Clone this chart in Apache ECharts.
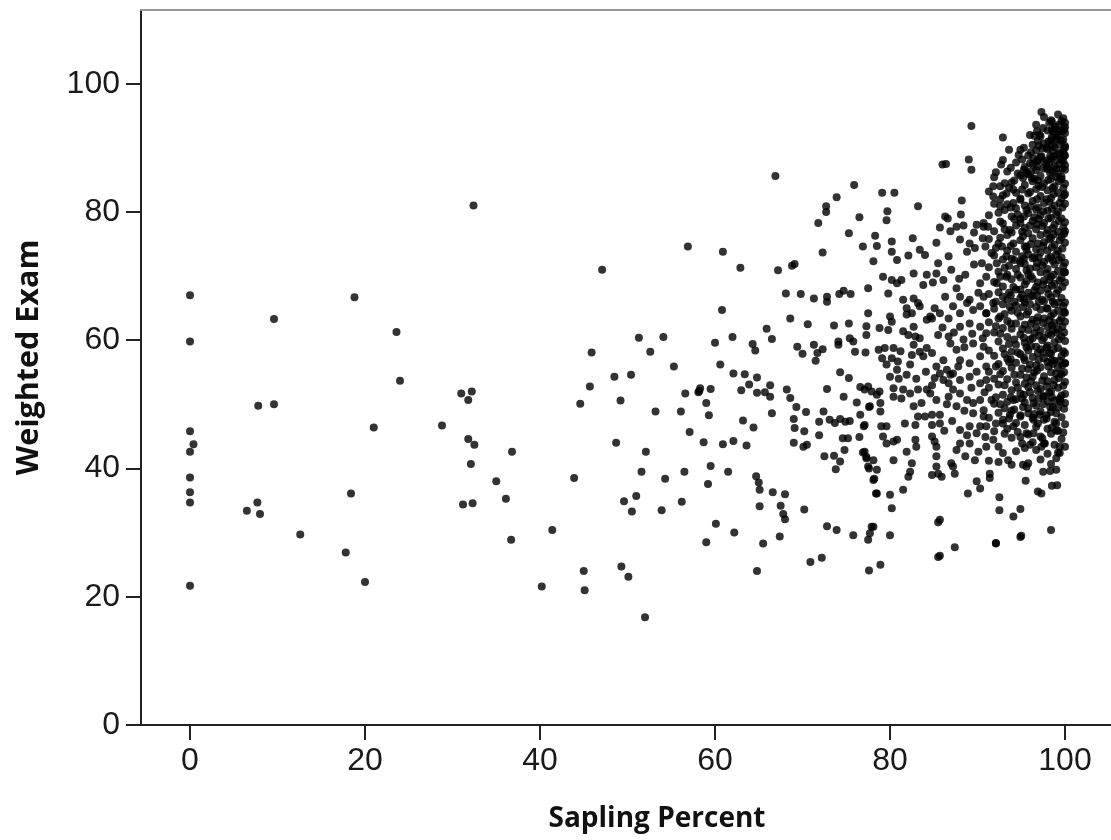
<!DOCTYPE html>
<html><head><meta charset="utf-8">
<script src="https://cdn.jsdelivr.net/npm/echarts@6/dist/echarts.min.js"></script>
<style>html,body{margin:0;padding:0;background:#fff}#c{width:1111px;height:840px}</style>
</head><body><div id="c"></div>
<script>
const xTicks = [0, 20, 40, 60, 80, 100];
const yTicks = [0, 20, 40, 60, 80, 100];
const xName = 'Sapling Percent';
const yName = 'Weighted Exam';

// [sapling percent, weighted exam]
const lowSapling = [
 [0,67.0],[0,59.8],[0,45.8],[0.4,43.8],[0,42.6],[0,38.6],[0,36.3],[0,34.7],[0,21.7],
 [9.6,63.3],[7.8,49.8],[9.6,50.0],[7.7,34.7],[6.5,33.4],[8.0,32.9],[12.6,29.7],
 [18.8,66.7],[17.8,26.9],[20.0,22.3],[18.4,36.1],[23.6,61.3],[24.0,53.7],[21.0,46.4]
];
const midSapling = [
 [32.4,81.0],[47.1,71.0],[56.9,74.6],[31.0,51.7],[32.2,52.0],[31.8,50.7],[28.8,46.7],[31.8,44.6],
 [32.5,43.7],[32.1,40.7],[36.8,42.6],[35.0,38.0],[36.1,35.3],[31.2,34.4],[32.3,34.6],[36.7,28.9],
 [41.4,30.4],[43.9,38.5],[40.2,21.6],[45.0,24.0],[45.1,21.0],[49.3,24.7],[50.1,23.1],[52.0,16.8],
 [45.9,58.1],[45.7,52.8],[44.6,50.1],[48.5,54.3],[50.4,54.6],[49.2,50.6],[51.3,60.4],[54.1,60.5],
 [52.6,58.2],[55.3,55.9],[56.6,51.7],[58.2,52.1],[53.2,48.9],[56.1,48.9],[57.1,45.7],[48.7,44.0],
 [52.1,42.6],[51.6,39.5],[54.3,38.4],[56.5,39.5],[51.0,35.7],[49.6,34.9],[50.5,33.3],[53.9,33.5],[56.2,34.8]
];
const upperMidSapling = [
 [66.9,85.6],[75.9,84.2],[73.9,82.3],[72.7,80.9],[72.7,80.0],[71.8,78.3],[76.5,79.2],[75.3,76.7],
 [76.9,74.6],[72.3,73.7],[60.9,73.8],[62.9,71.3],[67.2,70.9],[68.8,71.6],[69.1,71.9],[68.1,67.3],
 [69.8,67.2],[71.3,66.5],[72.8,66.8],[72.8,66.0],[74.2,67.2],[74.7,67.7],[75.5,67.2],[60.8,64.7],
 [68.6,63.4],[70.6,62.5],[73.6,62.3],[75.3,62.6],[65.9,61.8],[66.5,60.2],[62.0,60.5],[60.0,59.6],
 [64.3,59.4],[64.6,58.4],[69.4,59.0],[70.0,57.9],[71.3,59.3],[72.3,58.6],[71.7,58.0],[71.5,56.8],
 [74.1,59.8],[74.1,59.3],[75.4,60.3],[75.8,59.8],[76.0,58.2],[77.2,58.1],[60.6,56.2],[62.1,54.8],
 [63.4,54.7],[64.8,54.2],[63.9,53.1],[63.0,52.2],[64.8,51.8],[65.7,51.9],[66.3,51.2],[66.3,53.0],
 [58.3,52.5],[58.1,51.9],[59.5,52.4],[59.0,50.2],[59.3,48.3],[58.7,44.1],[60.9,43.8],[62.1,44.3],
 [63.6,43.6],[63.2,47.5],[64.4,46.4],[66.5,48.6],[68.2,52.3],[68.6,51.0],[69.3,49.6],[70.4,48.8],
 [69.0,47.7],[69.1,46.3],[70.2,45.8],[69.0,44.0],[70.1,43.4],[70.5,43.7],[72.8,52.4],[74.3,55.0],
 [75.3,54.1],[74.7,51.2],[76.2,50.3],[76.6,48.4],[77.0,46.6],[72.4,48.9],[71.9,47.3],[71.9,45.2],
 [73.1,47.6],[73.7,47.1],[74.3,47.7],[74.9,47.3],[75.4,47.4],[74.6,44.7],[75.2,44.7],[76.5,44.9],
 [74.8,42.9],[72.5,41.9],[73.6,42.0],[74.3,41.1],[73.8,39.9],[76.9,42.5],[77.3,41.6],[77.6,40.0],
 [78.2,38.4],[78.4,36.1],[59.5,40.4],[61.5,39.5],[59.2,37.6],[64.7,38.8],[65.0,37.8],[65.1,36.7],
 [65.1,34.1],[66.6,36.3],[68.0,36.0],[67.5,34.2],[67.8,32.9],[68.0,32.1],[70.2,33.6],[60.1,31.4],
 [62.2,30.0],[59.0,28.5],[65.5,28.3],[67.4,29.4],[64.8,24.0],[72.8,31.0],[73.9,30.4],[75.8,29.6],
 [77.9,30.9],[77.7,29.9],[77.5,28.9],[70.9,25.4],[72.2,26.1],[77.6,24.1],[78.9,25.0],[77.5,68.1],
 [77.5,64.2],[77.3,62.2],[77.3,60.8],[78.3,76.3],[78.5,74.7],[78.1,72.3],[77.5,52.8],[77.9,52.0],
 [78.5,51.5],[77.6,49.6],[76.6,52.7],[77.1,52.3],[78.7,58.5]
];
const highSapling = [
 [89.3,93.4],[89.0,88.2],[89.3,86.6],[86.0,87.4],[86.4,87.5],[79.1,83.0],[80.5,83.0],[88.2,81.8],
 [83.2,80.9],[79.7,80.1],[79.6,78.7],[86.3,79.3],[86.6,79.0],[85.7,77.6],[86.9,77.0],[87.6,77.7],
 [88.4,77.9],[89.9,78.0],[90.7,77.7],[80.2,75.4],[80.2,73.8],[82.6,75.9],[85.3,75.2],[83.4,74.1],
 [84.0,73.3],[82.1,73.2],[80.8,72.5],[86.7,73.1],[85.5,72.0],[88.0,75.7],[89.1,75.1],[89.7,74.4],
 [88.8,73.8],[82.7,70.4],[79.2,69.9],[80.2,69.4],[80.8,68.9],[81.3,69.4],[79.8,67.3],[84.2,70.2],
 [85.3,70.4],[86.1,69.4],[87.0,71.0],[83.8,68.6],[84.9,69.0],[86.3,66.8],[87.6,68.1],[88.0,66.8],
 [89.1,66.3],[90.3,68.9],[80.0,63.7],[81.5,66.3],[82.7,66.5],[83.4,65.3],[81.9,64.0],[84.6,63.7],
 [85.1,65.0],[80.2,62.9],[78.8,61.9],[79.8,61.6],[81.5,61.4],[82.1,60.8],[82.7,62.1],[82.9,60.6],
 [83.4,60.3],[81.9,65.0],[82.5,64.2],[83.2,65.8],[84.2,63.2],[84.8,63.4],[85.7,64.2],[86.7,63.4],
 [85.5,60.8],[86.7,60.6],[79.4,58.8],[80.4,58.8],[79.1,57.2],[80.2,57.2],[80.9,56.7],[82.7,59.3],
 [82.5,57.7],[83.4,58.2],[84.2,58.8],[84.8,58.0],[83.8,57.5],[79.6,56.2],[80.8,55.4],[80.0,54.3],
 [81.0,54.0],[82.3,56.2],[81.9,54.6],[85.3,55.9],[85.7,54.8],[86.1,53.8],[86.7,53.3],[85.1,54.1],
 [86.9,54.6],[78.8,52.0],[80.4,52.5],[81.5,52.3],[82.3,51.7],[83.2,52.3],[84.2,52.3],[84.8,53.0],
 [84.6,51.7],[80.4,51.2],[81.3,50.9],[82.7,49.7],[83.6,50.2],[85.3,50.7],[86.7,51.2],[77.7,49.7],
 [78.9,50.2],[78.9,48.9],[77.1,46.8],[79.0,46.6],[79.6,46.6],[81.7,47.0],[82.9,46.8],[83.2,48.1],
 [84.0,48.1],[84.8,48.4],[85.7,48.4],[84.8,46.8],[85.7,47.0],[79.2,45.0],[79.6,43.9],[80.4,44.2],
 [80.8,44.5],[82.9,44.5],[83.0,43.4],[84.8,45.0],[85.1,44.2],[85.3,43.4],[77.1,42.6],[77.3,41.8],
 [78.1,41.3],[80.4,41.3],[81.9,42.6],[82.5,40.8],[82.3,39.5],[82.1,38.7],[77.5,40.3],[78.5,39.8],
 [78.1,38.2],[85.3,41.9],[85.3,40.3],[85.5,39.2],[84.8,39.0],[85.9,38.7],[87.2,40.3],[87.4,39.2],
 [87.0,40.8],[78.5,36.1],[80.0,35.9],[80.2,33.8],[81.5,36.7],[85.7,32.0],[85.5,31.6],[78.1,30.9],
 [80.0,29.6],[87.4,27.7],[85.7,26.4],[88.9,36.1],[89.9,38.0],[90.3,36.9],[88.0,46.0],[88.8,45.2],
 [88.0,43.9],[87.6,42.9],[88.6,41.9],[89.1,43.9],[89.9,45.5],[89.7,41.3],[90.1,42.6],[87.2,52.3],
 [88.0,51.7],[88.8,50.7],[87.6,49.7],[89.5,50.2],[90.3,50.7],[89.5,48.6],[90.7,48.1],[89.1,46.6],
 [90.3,46.6],[87.2,65.3],[88.0,64.2],[88.8,65.8],[89.5,64.7],[90.3,65.3],[91.0,64.2],[88.0,62.1],
 [89.1,62.6],[90.3,62.1],[91.0,61.1],[86.9,59.5],[87.6,58.5],[88.4,60.1],[89.5,59.5],[90.7,59.0],
 [88.0,56.9],[89.1,56.4],[90.3,57.5],[91.0,55.9],[87.2,54.8],[88.0,53.8],[89.1,54.3],[90.3,53.3],
 [91.0,53.8],[86.1,56.9],[86.5,55.4],
 [88.6,70.2],[89.6,71.8],[90.1,67.4],[87.9,69.6],[89.4,61.0],[90.6,60.3],[88.5,58.9],[89.9,55.1],
 [90.8,51.9],[88.5,49.0],[87.1,47.4],[86.2,45.9],[86.5,50.0],[87.8,55.9],[90.9,44.9],[89.3,52.6],
 [84.1,55.1],[83.0,54.0],[81.2,58.3],[86.0,62.0],[87.3,61.2],[90.6,75.9],[89.6,76.8],[88.1,79.6]
];
const topSapling = [
 [97.3,95.6],[99.2,95.2],[99.8,94.6],[98.5,94.1],[98.9,93.3],[100.0,93.9],[99.4,92.6],[98.5,92.8],
 [96.0,92.0],[97.1,92.0],[92.9,91.6],[100.0,92.3],[99.8,91.3],[99.0,91.3],[98.5,90.5],[97.9,90.0],
 [100.0,90.0],[99.4,89.2],[93.6,89.7],[94.9,89.7],[94.7,88.9],[96.4,88.4],[96.9,88.1],[96.0,87.6],
 [97.3,88.7],[98.3,88.7],[99.0,88.1],[99.8,87.9],[92.7,87.4],[96.8,87.1],[97.9,87.1],[99.0,86.8],
 [100.0,86.6],[98.3,86.1],[99.6,85.5],[91.9,85.4],[95.2,85.3],[96.2,85.3],[91.8,84.0],[92.6,84.0],
 [91.8,82.4],[93.3,82.9],[94.1,83.5],[92.6,80.9],[93.1,80.3],[94.1,81.4],[94.9,81.9],[90.7,78.3],
 [91.2,77.7],[92.6,78.5],[90.9,74.6],[91.6,73.6],[90.5,72.0],[92.2,72.0],[93.3,73.1],[92.8,74.6],
 [93.7,77.2],[94.9,78.3],[95.2,76.2],[94.1,75.1],[95.6,74.6],[91.0,69.9],[92.2,68.9],[93.3,69.9],
 [94.1,68.3],[90.7,66.8],[91.8,65.8],[92.9,66.8],[93.7,65.2],[91.0,64.2],[92.6,63.7],[94.9,72.0],
 [95.6,70.9],[94.9,67.9],[96.0,66.8],[95.2,65.2]
];
const lowerHighSapling = [
 [100.0,56.4],[99.4,50.7],[99.0,48.6],[99.0,45.9],[99.4,43.4],[99.4,42.4],[97.5,39.5],[98.3,39.6],
 [99.0,39.8],[98.5,37.3],[99.1,37.4],[96.9,36.4],[97.3,36.1],[95.5,38.1],[92.5,35.5],[92.5,33.5],
 [94.1,32.5],[94.9,33.7],[98.4,30.4],[94.9,29.3],[92.1,28.3],[91.4,39.2],[91.4,38.5],[93.5,41.3],
 [93.9,40.6],[95.2,40.6],[95.6,40.3],[95.1,43.9],[96.0,43.7],[96.4,45.5],[97.7,43.9],[97.3,43.4],
 [92.4,43.4],[91.0,43.4],[91.8,44.5],[93.7,48.4],[94.9,48.1],[95.8,48.6],[96.4,47.6],[97.9,47.8],
 [97.1,48.4],[98.3,49.6],[92.9,47.0],[91.0,46.6],[90.7,49.1],[91.6,50.7],[94.1,50.7],[95.2,49.6],
 [97.5,51.2],[96.4,50.2],[94.1,46.6],[95.6,45.5],[99.5,50.4],[85.5,26.2],[95.0,29.5],[92.1,28.4]
];
// dense core: sapling value followed by the exam scores read at that value
const denseCols = [
 [91.3, [83.2,79.5,75.8,71.4,67.2,62.8,58.4,55.1,52.6,47.9,41.2]],
 [91.9, [81.3,77.0,73.2,69.1,64.9,61.2,57.6,54.0,50.1,45.8]],
 [92.4, [79.9,75.1,70.7,67.5,63.4,59.8,56.3,53.1,48.7,41.0]],
 [92.9, [88.1,82.6,78.2,72.6,68.4,65.6,61.9,58.7,55.2,51.5,47.6,42.4]],
 [93.4, [86.3,81.2,76.4,74.0,70.2,66.3,63.0,60.5,57.1,53.9,50.4,46.2]],
 [93.9, [84.6,79.3,76.8,72.7,69.5,64.6,61.8,58.2,55.7,52.2,49.0,44.8]],
 [94.4, [87.7,83.0,80.6,77.9,73.8,71.1,67.9,65.4,62.6,59.3,56.5,53.4,50.8,47.1,42.7]],
 [94.9, [85.7,82.1,78.9,75.6,72.3,69.8,66.6,63.7,60.9,57.8,54.6,51.7,48.3,44.9]],
 [95.4, [87.0,84.2,81.0,77.5,74.6,71.9,68.7,65.9,62.4,59.6,56.9,53.2,50.3,46.8,43.2]],
 [95.6, [86.1,80.3,74.1,69.2,64.0,58.9,54.2]],
 [95.8, [88.8,85.9,82.9,79.8,76.7,73.4,70.3,67.4,64.5,61.6,58.4,55.5,52.7,49.4,45.3,40.8]],
 [96.3, [90.5,87.4,84.8,81.7,78.6,75.9,72.8,69.6,66.9,63.2,60.3,57.4,54.3,51.0,47.9,44.1]],
 [96.5, [91.9,85.2,79.2,73.0,67.8,61.1,55.0,48.5]],
 [96.7, [93.6,89.6,86.5,83.6,80.4,77.3,74.2,71.4,68.3,65.2,62.0,59.0,56.1,53.0,49.8,46.5,42.9]],
 [97.2, [91.8,88.6,85.6,82.5,79.5,76.4,73.7,70.6,67.7,64.8,61.5,58.6,55.8,52.4,48.9,45.0,41.4]],
 [97.4, [89.9,83.9,77.8,71.7,66.3,60.0,53.7,44.7]],
 [97.6, [94.8,90.7,87.8,84.5,81.4,78.3,75.3,72.2,69.3,66.1,63.4,60.4,57.2,54.4,51.3,47.6,43.9]],
 [98.0, [92.7,89.8,86.7,83.4,80.2,77.2,74.0,71.1,68.0,64.9,62.1,59.2,56.6,53.6,50.5,46.2,42.3]],
 [98.2, [93.9,87.6,81.6,75.7,69.4,63.1,58.0,51.8]],
 [98.4, [94.3,91.2,88.3,85.2,82.2,79.1,76.0,73.0,69.9,66.7,63.8,60.8,57.9,55.0,52.0,48.8,45.4,40.7]],
 [98.8, [93.0,90.1,87.1,84.0,81.0,78.0,74.9,71.8,68.8,65.6,62.7,59.7,56.8,53.8,50.6,47.3,43.7]],
 [99.0, [91.6,85.5,79.6,73.4,67.3,61.2,54.8,47.0,41.6]],
 [99.2, [92.0,89.0,86.0,83.0,80.0,76.9,73.9,70.8,67.8,64.6,61.7,58.8,55.7,52.6,49.5,45.9,42.5]],
 [99.6, [94.2,91.1,88.2,85.1,82.1,79.0,76.1,72.9,69.7,66.6,63.5,60.6,57.5,54.7,51.4,48.0,44.6]],
 [99.8, [89.5,83.7,77.6,71.5,65.3,58.3,52.9,45.6]],
 [100.0, [93.2,90.3,87.3,84.4,81.3,78.4,75.2,72.1,69.0,65.9,62.9,59.9,56.4,53.5,50.2,46.9,43.4]],
 [96.0, [83.1,77.9,71.2,65.6,60.1,56.2,51.9]],
 [97.0, [90.3,84.1,78.9,72.9,66.0,60.7,57.0,50.9]],
 [97.9, [88.0,82.0,76.6,70.4,65.0,58.9,52.8,48.3]],
 [98.6, [89.5,83.8,77.5,72.4,66.0,61.6,56.3,49.6]],
 [99.4, [87.5,81.4,75.6,69.3,63.0,56.8,50.9]],
 [93.6, [83.8,71.6,67.4,59.4,56.6,47.8]],
 [94.6, [86.0,79.6,70.2,64.3,58.1,52.6,45.7]],
 [95.1, [88.2,83.5,76.9,73.1,67.1,61.7,55.6,50.9]],
 [96.9, [91.1,84.9,80.7,75.1,69.0,63.6,58.0,52.1,47.0]],
 [98.5, [91.7,86.4,80.5,74.5,68.5,62.3,56.9,51.1,46.4]],
 [99.9, [92.9,88.8,82.6,76.6,70.6,64.4,61.2,55.0,49.3]],
 [92.1, [86.2,74.4,66.0,62.2,55.9,51.1,47.0]],
 [93.1, [84.5,77.3,71.3,64.1,57.8,53.0,49.4,45.4]],
 [95.3, [90.0,86.6,79.3,72.7,66.4,60.4,57.3,51.5]],
 [96.1, [89.3,86.3,80.9,75.0,70.0,62.6,59.1,53.6]],
 [96.8, [92.6,87.9,82.0,78.1,72.1,67.0,63.0,55.3]],
 [97.5, [93.1,86.8,80.1,74.7,68.7,62.7,58.1,50.0]],
 [98.1, [91.0,85.0,79.0,72.8,67.2,61.0,55.9]],
 [98.7, [92.3,88.7,82.8,76.5,70.2,64.2,58.6,53.0]],
 [99.3, [93.6,90.5,84.8,78.6,72.5,65.9,60.1,54.1]],
 [99.7, [92.6,86.8,80.7,74.3,68.3,62.1,56.1]],
 [100.0, [88.8,82.8,77.0,70.6,64.3,58.0,51.6]],
 [92.6, [82.0,76.0,69.9,61.0,54.7,50.0]],
 [93.8, [86.9,80.7,74.7,67.0,62.6,57.0,51.1]],
 [94.2, [84.9,78.9,72.5,66.0,60.1,54.6,49.2]]
];

const points = [].concat(lowSapling, midSapling, upperMidSapling, highSapling, topSapling, lowerHighSapling);
denseCols.forEach(function (c) { c[1].forEach(function (y) { points.push([c[0], y]); }); });

const chart = echarts.init(document.getElementById('c'), null, {renderer: 'canvas'});
const labelFont = {fontFamily: 'Liberation Sans', fontSize: 32, color: '#1a1a1a'};
chart.setOption({
  animation: false,
  backgroundColor: '#fff',
  grid: {left: 141, top: 10, width: 1032, height: 715, containLabel: false, outerBoundsMode: 'none'},
  xAxis: [{
    type: 'value', min: -5.6, max: 112.34,
    splitLine: {show: false},
    axisLine: {show: true, onZero: false, lineStyle: {color: '#222', width: 2}},
    axisTick: {show: true, length: 15, customValues: xTicks, lineStyle: {color: '#222', width: 2}},
    axisLabel: Object.assign({customValues: xTicks, margin: 20}, labelFont),
    name: xName, nameLocation: 'middle', nameGap: 80,
    nameTextStyle: {fontFamily: 'Open Sans', fontWeight: 'bold', fontSize: 28, color: '#111'}
  }, {
    type: 'value', position: 'top', min: -5.6, max: 112.34,
    splitLine: {show: false}, axisTick: {show: false}, axisLabel: {show: false},
    axisLine: {show: true, onZero: false, lineStyle: {color: '#999', width: 2}}
  }],
  yAxis: {
    type: 'value', min: 0, max: 111.5,
    splitLine: {show: false},
    axisLine: {show: true, onZero: false, lineStyle: {color: '#222', width: 2}},
    axisTick: {show: true, length: 15, customValues: yTicks, lineStyle: {color: '#222', width: 2}},
    axisLabel: Object.assign({customValues: yTicks, margin: 21}, labelFont),
    name: yName, nameLocation: 'middle', nameGap: 96, nameRotate: 90,
    nameTextStyle: {fontFamily: 'Open Sans', fontWeight: 'bold', fontSize: 30.5, color: '#111', padding: [0, 0, 0, 20]}
  },
  series: [{
    type: 'scatter', data: points, symbol: 'circle', symbolSize: 8,
    itemStyle: {color: '#000'}, progressive: 0, large: false, silent: true
  }]
});
</script></body></html>
